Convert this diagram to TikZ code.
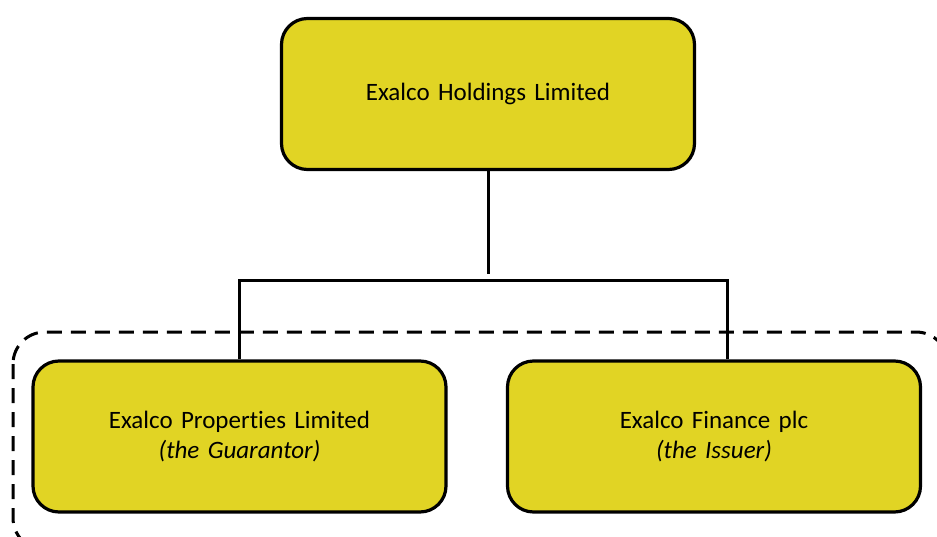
\documentclass[tikz,border=0pt]{standalone}
\usepackage{fontspec}
\setmainfont[Ligatures=NoCommon]{Carlito}
\usetikzlibrary{arrows,shapes}
\definecolor{exyellow}{RGB}{225,212,36}
\tikzstyle{block} = [rectangle, draw, line width=3.2pt, fill=exyellow,
    text width=380pt, text centered, rounded corners=26pt,
    minimum width=413pt, minimum height=151pt, font=\fontsize{25}{30}\selectfont]
\tikzstyle{link} = [line width=3pt]
\tikzstyle{group} = [line width=3pt, dash pattern=on 15pt off 9pt, rounded corners=32pt]

\begin{document}
\begin{tikzpicture}[x=1pt,y=-1pt,node distance=342.5pt]
  \useasboundingbox (0,0) rectangle (937,537);
  \node[block] (1) at (488,94)                   {Exalco Holdings Limited};
  \node[block] (2) [below of=1, xshift=-248.5pt] {Exalco Properties Limited\\ \textit{(the Guarantor)}};
  \node[block] (3) [below of=1, xshift=226pt]    {Exalco Finance plc\\ \textit{(the Issuer)}};

  \coordinate (bus) at (484,281);
  \draw[group] (13,332) rectangle (948,550);
  \draw[link, shorten >=7pt] (1) -- (1 |- bus);
  \draw[link] (2) -- (2 |- bus) -| ([xshift=13pt]3.north);
\end{tikzpicture}
\end{document}
